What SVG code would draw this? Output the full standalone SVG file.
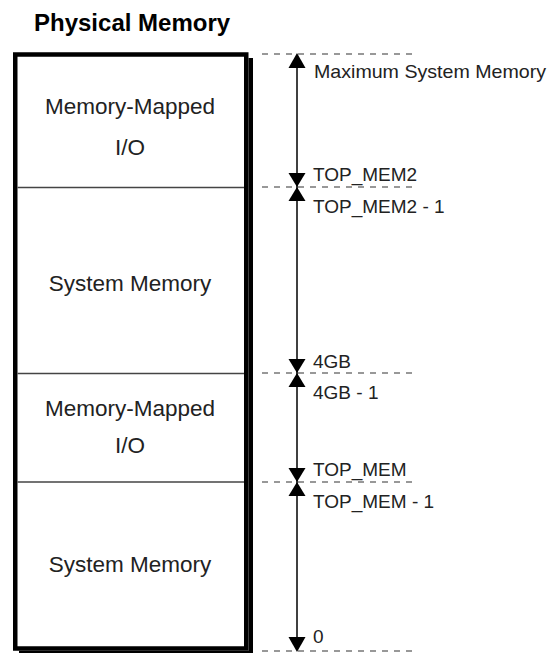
<svg xmlns="http://www.w3.org/2000/svg" width="548" height="654" viewBox="0 0 548 654">
<style>
.title{font-family:"Liberation Sans",Arial,sans-serif;font-weight:bold;font-size:24px;fill:#000}
.blk{font-family:"Liberation Sans",Arial,sans-serif;font-size:22.5px;fill:#222;text-anchor:middle}
.lbl{font-family:"Liberation Sans",Arial,sans-serif;font-size:19px;fill:#222}
.div{stroke:#444;stroke-width:1.3;fill:none}
.dash{stroke:#333;stroke-width:1.2;stroke-dasharray:6 6;fill:none}
.axis{stroke:#000;stroke-width:1.5;fill:none}
.tri{fill:#000}
</style>
<rect width="548" height="654" fill="#fff"/>
<text class="title" x="34" y="31">Physical Memory</text>
<g id="memory-box">
  <rect x="15.25" y="54.5" width="231" height="594" fill="#fff" stroke="#000" stroke-width="4.5"/>
  <rect x="248.5" y="58" width="4.5" height="595" fill="#000"/>
  <rect x="19" y="650.75" width="234" height="2.25" fill="#000"/>
</g>
<g id="mmio-high">
  <text class="blk" x="130" y="114">Memory-Mapped</text>
  <text class="blk" x="130" y="155">I/O</text>
</g>
<g id="sysmem-high">
  <line class="div" x1="17.5" y1="187.5" x2="244" y2="187.5"/>
  <text class="blk" x="130" y="290.5">System Memory</text>
</g>
<g id="mmio-low">
  <line class="div" x1="17.5" y1="373.5" x2="244" y2="373.5"/>
  <text class="blk" x="130" y="416">Memory-Mapped</text>
  <text class="blk" x="130" y="453">I/O</text>
</g>
<g id="sysmem-low">
  <line class="div" x1="17.5" y1="482" x2="244" y2="482"/>
  <text class="blk" x="130" y="572">System Memory</text>
</g>
<g id="connectors">
  <line class="dash" x1="262" y1="54" x2="412" y2="54"/>
  <line class="dash" x1="262" y1="187" x2="412" y2="187"/>
  <line class="dash" x1="262" y1="373" x2="412" y2="373"/>
  <line class="dash" x1="262" y1="482" x2="412" y2="482"/>
  <line class="dash" x1="262" y1="651" x2="412" y2="651"/>
  <line class="axis" x1="297" y1="56" x2="297" y2="649"/>
  <polygon class="tri" points="297,53 288.5,68 305.5,68"/>
  <polygon class="tri" points="297,187 288.5,173 305.5,173"/>
  <polygon class="tri" points="297,187 288.5,201 305.5,201"/>
  <polygon class="tri" points="297,373 288.5,359 305.5,359"/>
  <polygon class="tri" points="297,373 288.5,387 305.5,387"/>
  <polygon class="tri" points="297,482 288.5,468 305.5,468"/>
  <polygon class="tri" points="297,482 288.5,496 305.5,496"/>
  <polygon class="tri" points="297,652 288.5,637 305.5,637"/>
</g>
<g id="labels">
  <text class="lbl" x="314" y="78" textLength="232" lengthAdjust="spacingAndGlyphs">Maximum System Memory</text>
  <text class="lbl" x="313" y="181">TOP_MEM2</text>
  <text class="lbl" x="313" y="213">TOP_MEM2 - 1</text>
  <text class="lbl" x="313" y="367.5">4GB</text>
  <text class="lbl" x="313" y="399">4GB - 1</text>
  <text class="lbl" x="313" y="476">TOP_MEM</text>
  <text class="lbl" x="313" y="507.5">TOP_MEM - 1</text>
  <text class="lbl" x="313" y="643">0</text>
</g>
</svg>
